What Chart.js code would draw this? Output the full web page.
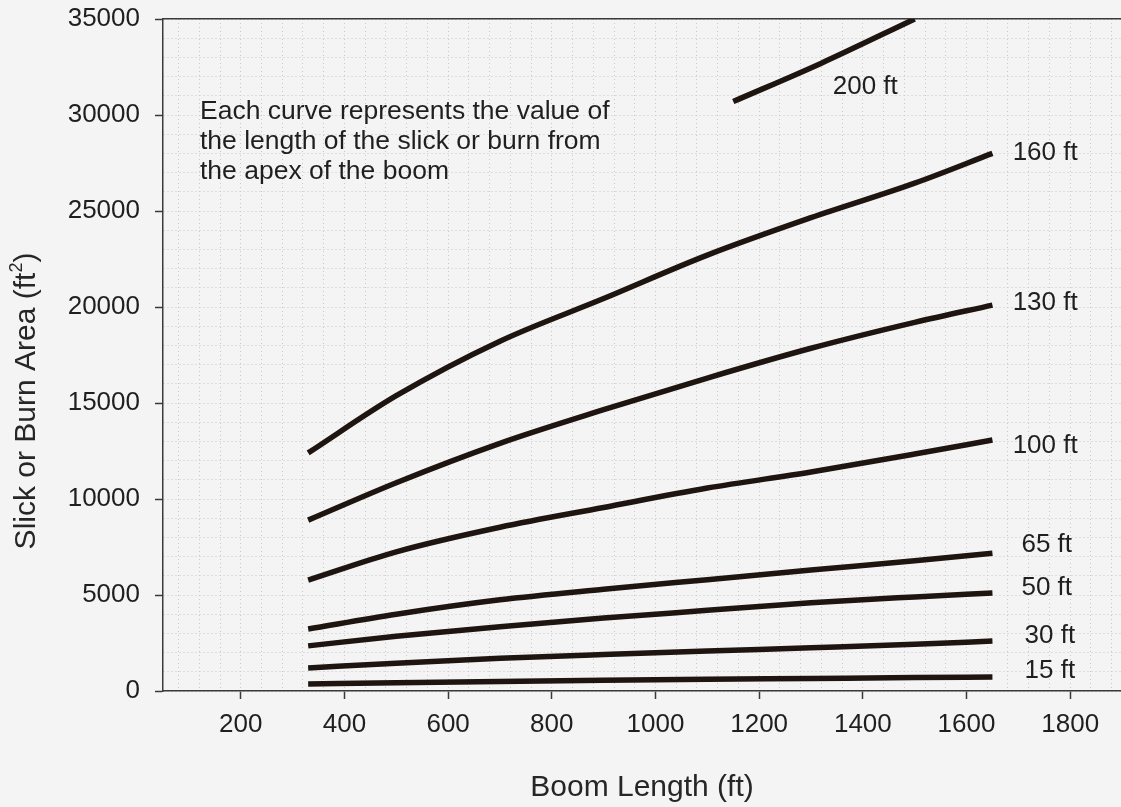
<!DOCTYPE html>
<html>
<head>
<meta charset="utf-8">
<script src="https://cdn.jsdelivr.net/npm/chart.js@4/dist/chart.umd.min.js"></script>
<style>
  html, body { margin: 0; padding: 0; background: #f4f4f4; }
  #wrap { width: 1121px; height: 807px; position: relative; }
</style>
</head>
<body>
<div id="wrap"><canvas id="chart"></canvas></div>
<script>
// Boom length samples (ft) shared by the lower curves
const boomLength = [330, 500, 700, 900, 1100, 1300, 1500, 1650];

// Slick or burn area (ft^2) for each slick/burn length
const area15 = [360, 430, 500, 560, 610, 655, 700, 730];
const area30 = [1200, 1450, 1700, 1900, 2080, 2250, 2430, 2600];
const area50 = [2350, 2850, 3350, 3800, 4200, 4600, 4900, 5100];
const area65 = [3230, 4000, 4750, 5300, 5800, 6300, 6780, 7170];
const area100 = [5780, 7250, 8530, 9560, 10570, 11410, 12340, 13070];
const area130 = [8900, 10850, 12900, 14650, 16300, 17850, 19200, 20100];
const area160 = [12400, 15380, 18220, 20440, 22700, 24650, 26450, 28000];

// the 200 ft curve only shows a short piece
const boomLength200 = [1150, 1320, 1500];
const area200 = [30700, 32700, 35000];

const xTickLabels = [200, 400, 600, 800, 1000, 1200, 1400, 1600, 1800];
const yTickLabels = [0, 5000, 10000, 15000, 20000, 25000, 30000, 35000];

const curveNames = ['15 ft', '30 ft', '50 ft', '65 ft', '100 ft', '130 ft', '160 ft', '200 ft'];

const note = [
    'Each curve represents the value of',
    'the length of the slick or burn from',
    'the apex of the boom'
];

const FONT = '"Liberation Sans", Arial, Helvetica, sans-serif';
const INK = '#1e1510';
const AXIS = '#3a3a3a';

function toPoints(xs, ys) {
    return xs.map((x, i) => ({ x: x, y: ys[i] }));
}

const series = [area15, area30, area50, area65, area100, area130, area160];
const datasets = series.map((ys, i) => ({
    label: curveNames[i],
    data: toPoints(boomLength, ys)
}));
datasets.push({ label: curveNames[7], data: toPoints(boomLength200, area200) });

// label anchors in data units (left edge, vertical middle)
const labelSpots = {
    '200 ft': [1342, 31450],
    '160 ft': [1689, 28020],
    '130 ft': [1689, 20200],
    '100 ft': [1689, 12760],
    '65 ft': [1706, 7600],
    '50 ft': [1706, 5360],
    '30 ft': [1712, 2860],
    '15 ft': [1712, 1040]
};

const bgPlugin = {
    id: 'bg',
    beforeDraw(chart) {
        const ctx = chart.ctx;
        ctx.save();
        ctx.fillStyle = '#f4f4f4';
        ctx.fillRect(0, 0, chart.width, chart.height);
        ctx.restore();
    }
};

const textPlugin = {
    id: 'texts',
    afterDatasetsDraw(chart) {
        const ctx = chart.ctx;
        const xs = chart.scales.x;
        const ys = chart.scales.y;
        const area = chart.chartArea;
        ctx.save();
        ctx.fillStyle = '#1f1f1f';
        ctx.font = '26px ' + FONT;
        ctx.textAlign = 'left';
        ctx.textBaseline = 'middle';

        // curve labels
        chart.data.datasets.forEach(ds => {
            const spot = labelSpots[ds.label];
            if (!spot) return;
            ctx.fillText(ds.label, xs.getPixelForValue(spot[0]), ys.getPixelForValue(spot[1]));
        });

        // explanatory note
        ctx.font = '26.5px ' + FONT;
        note.forEach((line, i) => {
            ctx.fillText(line, area.left + 37, area.top + 93 + i * 30);
        });

        // y axis title, drawn by hand so it can sit a bit low like the original
        ctx.translate(27, 401);
        ctx.rotate(-Math.PI / 2);
        ctx.font = '30px ' + FONT;
        ctx.fillStyle = '#262626';
        const main = 'Slick or Burn Area (ft';
        const wMain = ctx.measureText(main).width;
        ctx.font = '18px ' + FONT;
        const wSup = ctx.measureText('2').width;
        ctx.font = '30px ' + FONT;
        const wEnd = ctx.measureText(')').width;
        const total = wMain + wSup + wEnd;
        ctx.textAlign = 'left';
        const x0 = -total / 2;
        ctx.fillText(main, x0, 0);
        ctx.font = '18px ' + FONT;
        ctx.fillText('2', x0 + wMain, -10);
        ctx.font = '30px ' + FONT;
        ctx.fillText(')', x0 + wMain + wSup, 0);
        ctx.restore();
    }
};

new Chart(document.getElementById('chart'), {
    type: 'line',
    data: { datasets: datasets },
    options: {
        responsive: true,
        maintainAspectRatio: false,
        animation: false,
        layout: { padding: { top: 19, left: 0, right: 0, bottom: 0 } },
        plugins: {
            legend: { display: false },
            tooltip: { enabled: false }
        },
        elements: {
            point: { radius: 0 },
            line: {
                borderColor: INK,
                borderWidth: 5.5,
                borderCapStyle: 'butt',
                cubicInterpolationMode: 'monotone',
                fill: false
            }
        },
        scales: {
            x: {
                type: 'linear',
                min: 50,
                max: 1898,
                afterBuildTicks: s => {
                    const t = [];
                    for (let v = 80; v <= 1880; v += 40) t.push({ value: v });
                    s.ticks = t;
                },
                afterFit: s => {
                    s.height = 116;
                    s.paddingLeft = 0;
                    s.paddingRight = 0;
                },
                grid: {
                    color: '#c9c9c9',
                    lineWidth: 1,
                    tickLength: 8,
                    tickColor: c => xTickLabels.includes(c.tick && c.tick.value) ? AXIS : 'rgba(0,0,0,0)',
                    tickWidth: 1.5
                },
                border: { display: true, color: AXIS, width: 1.5, dash: [1, 3] },
                ticks: {
                    autoSkip: false,
                    maxRotation: 0,
                    padding: 10,
                    color: '#1f1f1f',
                    font: { family: FONT, size: 26 },
                    callback: v => xTickLabels.includes(v) ? String(v) : ''
                },
                title: {
                    display: true,
                    text: 'Boom Length (ft)',
                    color: '#262626',
                    font: { family: FONT, size: 30 },
                    padding: { top: 0, bottom: 1 }
                }
            },
            xTop: {
                type: 'linear',
                position: 'top',
                min: 50,
                max: 1898,
                afterBuildTicks: s => { s.ticks = []; },
                afterFit: s => {
                    s.height = 0;
                    s.paddingLeft = 0;
                    s.paddingRight = 0;
                },
                grid: { display: false, drawTicks: false },
                border: { display: true, color: AXIS, width: 1.5 },
                ticks: { display: false }
            },
            y: {
                type: 'linear',
                min: 0,
                max: 35000,
                afterBuildTicks: s => {
                    const t = [];
                    for (let v = 0; v <= 35000; v += 1000) t.push({ value: v });
                    s.ticks = t;
                },
                afterFit: s => {
                    s.width = 163;
                    s.paddingTop = 0;
                    s.paddingBottom = 0;
                },
                grid: {
                    color: '#c9c9c9',
                    lineWidth: 1,
                    tickLength: 8,
                    tickColor: c => yTickLabels.includes(c.tick && c.tick.value) ? AXIS : 'rgba(0,0,0,0)',
                    tickWidth: 1.5
                },
                border: { display: true, color: AXIS, width: 1.5, dash: [1, 3] },
                ticks: {
                    autoSkip: false,
                    padding: 15,
                    color: '#1f1f1f',
                    font: { family: FONT, size: 26 },
                    callback: v => yTickLabels.includes(v) ? String(v) : ''
                }
            }
        }
    },
    plugins: [bgPlugin, textPlugin]
});
</script>
</body>
</html>
